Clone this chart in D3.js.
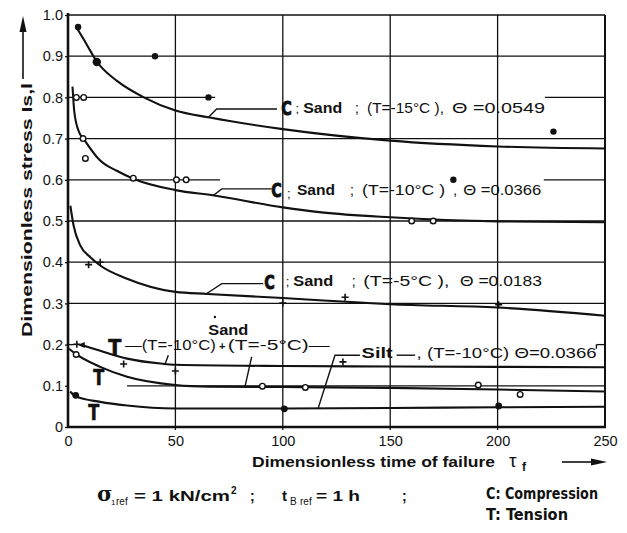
<!DOCTYPE html>
<html><head><meta charset="utf-8">
<script src="https://cdn.jsdelivr.net/npm/d3@7"></script>
<style>body{margin:0;background:#fff}svg{display:block}</style>
</head><body>
<svg id="chart" width="627" height="533"></svg>
<script>
// ---------- data ----------
const xTicks = [0, 50, 100, 150, 200, 250];
const xTickLabels = ["0", "50", "100", "150", "200", "250"];
const yTicks = [0, 0.1, 0.2, 0.3, 0.4, 0.5, 0.6, 0.7, 0.8, 0.9, 1.0];
const yTickLabels = ["0", "0.1", "0.2", "0.3", "0.4", "0.5", "0.6", "0.7", "0.8", "0.9", "1.0"];

// fitted curves [tau_f, stress]
const curveC15 = [[4.2,0.968],[7.3,0.941],[10.4,0.913],[13.4,0.887],[15.1,0.876],[22.8,0.84],[35.3,0.80],[50,0.768],[66,0.751],[100,0.723],[150,0.695],[200,0.681],[250,0.676]];
const curveC10 = [[2.1,0.826],[2.9,0.767],[4.9,0.719],[7.6,0.697],[15.1,0.646],[22.7,0.622],[30.7,0.602],[50,0.575],[68,0.562],[100,0.533],[118,0.521],[150,0.509],[200,0.499],[250,0.497]];
const curveC5  = [[1.1,0.537],[2.6,0.489],[5.7,0.441],[10.4,0.412],[15,0.392],[27.5,0.36],[50,0.328],[65,0.323],[100,0.313],[136,0.302],[150,0.298],[200,0.29],[250,0.27]];
const curveT10 = [[6.4,0.199],[10,0.193],[15,0.185],[27.5,0.166],[43,0.154],[50,0.151],[100,0.148],[150,0.147],[250,0.145]];
const curveT5  = [[0.5,0.19],[3.4,0.178],[15,0.146],[27.5,0.122],[50,0.102],[66,0.098],[100,0.097],[150,0.095],[200,0.091],[250,0.086]];
const curveSilt = [[1,0.086],[3.4,0.075],[15,0.061],[27.5,0.052],[50,0.045],[100,0.045],[150,0.046],[200,0.048],[250,0.049]];

// measured points
const dotsC15 = [[4.7,0.971],[13.4,0.886],[40.5,0.9],[65.4,0.8],[179.4,0.6],[226,0.717]];
const circlesC10 = [[3.9,0.8],[7.3,0.8],[7,0.7],[8.1,0.652],[30.4,0.604],[50.5,0.6],[55,0.6],[160,0.5],[170,0.5]];
const crossesC5 = [[9.6,0.394],[15,0.4],[100,0.301],[129,0.315],[200.5,0.297]];
const crossesT10 = [[4.1,0.201],[25.9,0.153],[50,0.136],[128,0.158]];
const circlesT5 = [[3.8,0.176],[90.5,0.099],[110.5,0.096],[191,0.102],[210.5,0.079]];
const dotsSilt = [[3.6,0.077],[100.7,0.044],[200.5,0.051]];

// horizontal grid segments (value -> tau ranges)
const hGrid = [
  [0.1, [[27.5,250]]], [0.2, [[0,3],[246,250]]], [0.3, [[0,250]]], [0.4, [[0,250]]],
  [0.5, [[0,250]]], [0.6, [[0,70.8],[221.5,250]]], [0.7, [[0,250]]],
  [0.8, [[0,68.5],[222,250]]], [0.9, [[0,250]]]
];
const vGrid = [50, 100, 150, 200];

// ---------- drawing ----------
const svg = d3.select("#chart");
const x = d3.scaleLinear().domain([0, 250]).range([68, 605]);
const y = d3.scaleLinear().domain([0, 1]).range([427, 15]);
const INK = "#111";
const FONT = "'Liberation Sans', Arial, Helvetica, sans-serif";
const NARROW = "'DejaVu Sans Condensed', 'DejaVu Sans', sans-serif";

// grid
const g = svg.append("g").attr("stroke", INK).attr("stroke-width", 1.3);
hGrid.forEach(([v, segs]) => segs.forEach(([a, b]) =>
  g.append("line").attr("x1", x(a)).attr("x2", x(b)).attr("y1", y(v)).attr("y2", y(v))));
vGrid.forEach(v => g.append("line").attr("x1", x(v)).attr("x2", x(v)).attr("y1", y(1)).attr("y2", y(0) + 3));

// frame
svg.append("line").attr("x1", x(0)).attr("x2", x(250)).attr("y1", y(1)).attr("y2", y(1)).attr("stroke", INK).attr("stroke-width", 1.6);
svg.append("line").attr("x1", x(250)).attr("x2", x(250)).attr("y1", y(1)).attr("y2", y(0)).attr("stroke", INK).attr("stroke-width", 2);
svg.append("line").attr("x1", x(0)).attr("x2", x(0)).attr("y1", y(1) - 2).attr("y2", y(0) + 1).attr("stroke", INK).attr("stroke-width", 2.6);
svg.append("line").attr("x1", x(0) - 1).attr("x2", x(250) + 1).attr("y1", y(0)).attr("y2", y(0)).attr("stroke", INK).attr("stroke-width", 2.6);

// axes
const ya = svg.append("g").attr("transform", `translate(${x(0)},0)`)
  .call(d3.axisLeft(y).tickValues(yTicks).tickFormat((d, i) => yTickLabels[i]).tickSize(3).tickPadding(2));
const xa = svg.append("g").attr("transform", `translate(0,${y(0)})`)
  .call(d3.axisBottom(x).tickValues(xTicks).tickFormat((d, i) => xTickLabels[i]).tickSize(0).tickPadding(9));
[ya, xa].forEach(a => {
  a.select(".domain").remove();
  a.selectAll("line").attr("stroke", INK).attr("stroke-width", 1.3);
  a.selectAll("text").attr("font-family", FONT).attr("font-size", 14.5).attr("fill", INK);
});

// curves
const line = d3.line().x(d => x(d[0])).y(d => y(d[1])).curve(d3.curveMonotoneX);
[curveC15, curveC10, curveC5, curveT10, curveT5, curveSilt].forEach(c =>
  svg.append("path").attr("d", line(c)).attr("fill", "none").attr("stroke", INK).attr("stroke-width", 2.1));
// arrowhead at start of T -10 curve
{
  const p = curveT10[0], px = x(p[0]), py = y(p[1]);
  svg.append("path").attr("d", `M${px-4},${py} L${px+3},${py-3} L${px+3},${py+3} Z`).attr("fill", INK);
}

// markers
function dots(data, r) {
  svg.append("g").selectAll("circle").data(data).join("circle")
    .attr("cx", d => x(d[0])).attr("cy", d => y(d[1]))
    .attr("r", (d, i) => (typeof r === "function" ? r(d, i) : r)).attr("fill", INK);
}
function rings(data) {
  svg.append("g").selectAll("circle").data(data).join("circle")
    .attr("cx", d => x(d[0])).attr("cy", d => y(d[1])).attr("r", 2.8)
    .attr("fill", "#fff").attr("stroke", INK).attr("stroke-width", 1.4);
}
function crosses(data) {
  svg.append("g").selectAll("path").data(data).join("path")
    .attr("d", d => { const cx = x(d[0]), cy = y(d[1]); return `M${cx-3.5},${cy}H${cx+3.5}M${cx},${cy-3.5}V${cy+3.5}`; })
    .attr("stroke", INK).attr("stroke-width", 1.6);
}
dots(dotsC15, (d, i) => (i === 1 ? 4.2 : 3.2));
rings(circlesC10);
crosses(crossesC5);
crosses(crossesT10);
rings(circlesT5);
dots(dotsSilt, 3.4);

// ---------- annotations ----------
function txt(tx, ty, s, o = {}) {
  const t = svg.append("text").attr("x", tx).attr("y", ty).text(s)
    .attr("font-family", o.family || FONT).attr("font-size", o.size || 14.5)
    .attr("font-weight", o.weight || "normal").attr("fill", INK);
  if (o.len) t.attr("textLength", o.len).attr("lengthAdjust", o.adjust || "spacingAndGlyphs");
  if (o.anchor) t.attr("text-anchor", o.anchor);
  if (o.transform) t.attr("transform", o.transform);
  if (o.stroke) t.attr("stroke", INK).attr("stroke-width", o.stroke);
  return t;
}
function leader(pts) {
  svg.append("path").attr("d", d3.line().x(d => x(d[0])).y(d => y(d[1]))(pts))
    .attr("fill", "none").attr("stroke", INK).attr("stroke-width", 1.4);
}
const bigC = (tx, ty, s) => txt(x(tx), y(ty), s, { family: NARROW, size: 20, weight: "bold", len: 10.5, stroke: 0.9 });
const bigT = (tx, ty, len) => txt(x(tx), y(ty), "T", { family: NARROW, size: 21, weight: "bold", len: len, stroke: 0.6 });

// C ; Sand ; (T=-15°C), Θ=0.0549
leader([[97.3, 0.772], [69.2, 0.772], [65.3, 0.751]]);
bigC(99.3, 0.757, "C");
txt(x(105.9), y(0.761), ";", { size: 13 });
txt(x(109.5), y(0.7633), "Sand", { weight: "bold", size: 14.5, len: 39 });
txt(x(133.6), y(0.7633), ";", { size: 14 });
txt(x(139.2), y(0.7633), "(T=-15°C ),", { size: 15, len: 77 });
txt(x(178.8), y(0.7633), "Θ =0.0549", { size: 15, len: 93 });

// C ; Sand ; (T=-10°C), Θ=0.0366
leader([[94.8, 0.578], [71.6, 0.578], [67.6, 0.562]]);
bigC(94.6, 0.559, "C");
txt(x(101.9), y(0.557), ";", { size: 13 });
txt(x(106.6), y(0.563), "Sand", { weight: "bold", size: 14.5, len: 38 });
txt(x(131.3), y(0.563), ";", { size: 14 });
txt(x(136.9), y(0.563), "(T=-10°C )", { size: 15, len: 83 });
txt(x(179.2), y(0.563), ",", { size: 15 });
txt(x(184), y(0.563), "Θ =0.0366", { size: 15, len: 78 });

// C ; Sand ; (T=-5°C), Θ=0.0183
leader([[90.9, 0.348], [71.6, 0.348], [64.6, 0.324]]);
bigC(91.4, 0.336, "C");
txt(x(101.4), y(0.3414), ";", { size: 13 });
txt(x(104.9), y(0.3414), "Sand", { weight: "bold", size: 14.5, len: 40 });
txt(x(132.1), y(0.3414), ";", { size: 14 });
txt(x(137.5), y(0.3414), "(T=-5°C ),", { size: 15, len: 86 });
txt(x(182.5), y(0.3414), "Θ =0.0183", { size: 15, len: 82 });

// Tension, sand
svg.append("circle").attr("cx", x(68.4)).attr("cy", y(0.267)).attr("r", 1.2).attr("fill", INK);
txt(x(65.3), y(0.2228), "Sand", { weight: "bold", size: 14.5, len: 40 });
bigT(18.8, 0.1743, 13);
txt(x(26.5), y(0.1877), "—(T=-10°C)", { size: 15, len: 91 });
txt(x(70.3), y(0.1877), "+", { size: 11, weight: "bold" });
txt(x(74.4), y(0.1877), "(T=-5°C)—", { size: 15, len: 102 });
leader([[46.7, 0.1743], [45.2, 0.153]]);
leader([[85.5, 0.170], [82.4, 0.098]]);
bigT(11.8, 0.1017, 11);
bigT(9.45, 0.017, 11);

// Silt
leader([[135.9, 0.1743], [124.3, 0.1743], [116.5, 0.046]]);
txt(x(136.7), y(0.1663), "Silt", { weight: "bold", size: 14.5, len: 31 });
leader([[153, 0.1743], [161.6, 0.1743]]);
txt(x(162.3), y(0.1663), ", (T=-10°C) Θ=0.0366", { size: 15, len: 180 });
leader([[246, 0.19], [246, 0.2]]);

// y axis title with arrow
txt(32, 210, "Dimensionless stress Is,l", { weight: "bold", size: 15, anchor: "middle", len: 254, transform: "rotate(-90,32,210)" });
svg.append("line").attr("x1", 23).attr("x2", 23).attr("y1", 79).attr("y2", 30).attr("stroke", INK).attr("stroke-width", 1.6);
svg.append("path").attr("d", "M23,16 L26.5,32 L19.5,32 Z").attr("fill", INK);

// x axis title with arrow
txt(252, 467, "Dimensionless time of failure", { weight: "bold", size: 15, len: 243 });
txt(509, 467, "τ", { size: 19 });
txt(522, 471, "f", { weight: "bold", size: 12 });
svg.append("line").attr("x1", 562).attr("x2", 594).attr("y1", 462).attr("y2", 462).attr("stroke", INK).attr("stroke-width", 1.6);
svg.append("path").attr("d", "M607,462 L591,458.5 L591,465.5 Z").attr("fill", INK);

// footer
txt(97, 501, "σ", { weight: "bold", size: 21, family: "'DejaVu Serif', serif" });
txt(111, 505, "1", { size: 8 });
txt(116, 505, "ref", { size: 10 });
txt(134, 501, "= 1  kN/cm", { weight: "bold", size: 15, len: 96 });
txt(231, 494, "2", { weight: "bold", size: 10 });
txt(250, 501, ";", { weight: "bold", size: 14 });
txt(282, 501, "t", { weight: "bold", size: 15 });
txt(290, 505, "B", { size: 10 });
txt(300, 505, "ref", { size: 10 });
txt(316, 501, "= 1  h", { weight: "bold", size: 15, len: 44 });
txt(402, 501, ";", { weight: "bold", size: 14 });
txt(486, 499, "C:  Compression", { family: NARROW, weight: "bold", size: 15, len: 112 });
txt(486, 520, "T:  Tension", { family: NARROW, weight: "bold", size: 15, len: 82 });
</script>
</body></html>
